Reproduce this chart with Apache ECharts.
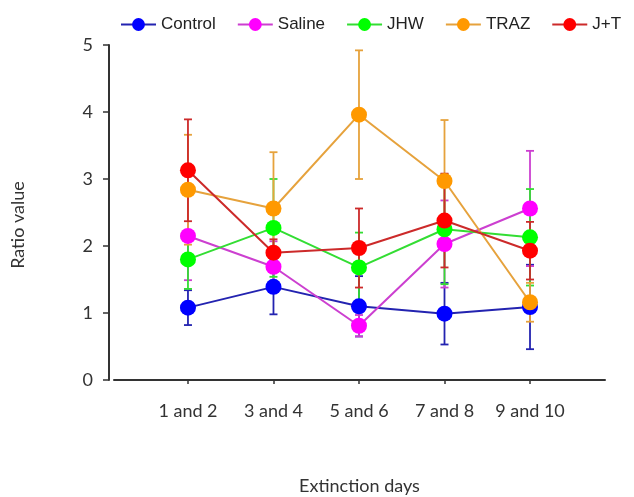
<!DOCTYPE html>
<html>
<head>
<meta charset="utf-8">
<script src="https://cdn.jsdelivr.net/npm/echarts@6/dist/echarts.min.js"></script>
<style>html,body{margin:0;padding:0;background:#fff;}#chart{width:634px;height:497px;}</style>
</head>
<body>
<div id="chart"></div>
<script>
const categories = ['1 and 2', '3 and 4', '5 and 6', '7 and 8', '9 and 10'];
const yTicks = [0, 1, 2, 3, 4, 5];

const control = [1.08, 1.39, 1.10, 0.99, 1.09];
const controlErr = [0.26, 0.41, 0.45, 0.46, 0.63];
const saline = [2.15, 1.69, 0.81, 2.03, 2.56];
const salineErr = [0.66, 0.38, 0.16, 0.65, 0.86];
const jhw = [1.80, 2.27, 1.68, 2.25, 2.13];
const jhwErr = [0.44, 0.73, 0.52, 0.82, 0.72];
const traz = [2.84, 2.56, 3.96, 2.97, 1.16];
const trazErr = [0.82, 0.84, 0.96, 0.91, 0.29];
const jt = [3.13, 1.90, 1.97, 2.38, 1.93];
const jtErr = [0.76, 0.20, 0.59, 0.70, 0.43];

const groups = [
  { name: 'Control', values: control, errs: controlErr, marker: '#0000ff', line: '#2323b0' },
  { name: 'Saline', values: saline, errs: salineErr, marker: '#ff00ff', line: '#cc3fd0' },
  { name: 'JHW', values: jhw, errs: jhwErr, marker: '#00ff00', line: '#33dd33' },
  { name: 'TRAZ', values: traz, errs: trazErr, marker: '#ff9900', line: '#e6a23c' },
  { name: 'J+T', values: jt, errs: jtErr, marker: '#ff0000', line: '#cc2a2a' }
];

const series = [];
groups.forEach(function (g, gi) {
  series.push({
    type: 'custom',
    name: g.name + ' err',
    z: 2,
    silent: true,
    data: g.values.map(function (v, i) { return [i, v - g.errs[i], v + g.errs[i]]; }),
    encode: { x: 0, y: [1, 2] },
    renderItem: function (params, api) {
      const x = api.value(0);
      const lo = api.coord([x, api.value(1)]);
      const hi = api.coord([x, api.value(2)]);
      const w = 4;
      const st = { stroke: g.line, lineWidth: 1.8 };
      return {
        type: 'group',
        children: [
          { type: 'line', shape: { x1: lo[0], y1: lo[1], x2: hi[0], y2: hi[1] }, style: st },
          { type: 'line', shape: { x1: lo[0] - w, y1: lo[1], x2: lo[0] + w, y2: lo[1] }, style: st },
          { type: 'line', shape: { x1: hi[0] - w, y1: hi[1], x2: hi[0] + w, y2: hi[1] }, style: st }
        ]
      };
    }
  });
});
groups.forEach(function (g, gi) {
  series.push({
    type: 'line',
    name: g.name,
    z: 3 + gi,
    data: g.values.map(function (v, i) { return [i, v]; }),
    symbol: 'circle',
    symbolSize: 16,
    lineStyle: { color: g.line, width: 2 },
    itemStyle: { color: g.marker, borderWidth: 0 },
    emphasis: { disabled: true }
  });
});

const chart = echarts.init(document.getElementById('chart'), null, { renderer: 'canvas' });
chart.setOption({
  animation: false,
  backgroundColor: '#ffffff',
  legend: {
    data: groups.map(function (g) { return g.name; }),
    left: 115,
    top: 11,
    itemWidth: 35,
    itemHeight: 16,
    itemGap: 21,
    textStyle: { fontFamily: 'Liberation Sans', fontSize: 17, color: '#222' }
  },
  grid: { left: 114, right: 29, top: 45, bottom: 117, containLabel: false, outerBoundsMode: 'none' },
  xAxis: {
    type: 'value',
    min: -0.865,
    max: 4.877,
    name: 'Extinction days',
    nameLocation: 'middle',
    nameGap: 97,
    nameTextStyle: { fontFamily: 'Lato', fontSize: 18, color: '#333' },
    axisLine: { show: true, onZero: false, lineStyle: { color: '#333', width: 2 } },
    axisTick: { show: true, length: 4, customValues: [0, 1, 2, 3, 4], lineStyle: { color: '#333', width: 1.5 } },
    axisLabel: {
      customValues: [0, 1, 2, 3, 4],
      margin: 22,
      fontFamily: 'Lato', fontSize: 18, color: '#333',
      formatter: function (v) { return categories[Math.round(v)]; }
    },
    splitLine: { show: false }
  },
  yAxis: {
    type: 'value',
    min: yTicks[0],
    max: yTicks[yTicks.length - 1],
    interval: 1,
    offset: 5,
    name: 'Ratio value',
    nameLocation: 'middle',
    nameGap: 82,
    nameTextStyle: { fontFamily: 'Lato', fontSize: 18, color: '#333', padding: [0, 25, 0, 0] },
    axisLine: { show: true, onZero: false, lineStyle: { color: '#333', width: 2 } },
    axisTick: { show: true, length: 6, lineStyle: { color: '#333', width: 1.5 } },
    axisLabel: { margin: 16, fontFamily: 'Lato', fontSize: 18, color: '#333' },
    splitLine: { show: false }
  },
  series: series
});
</script>
</body>
</html>
